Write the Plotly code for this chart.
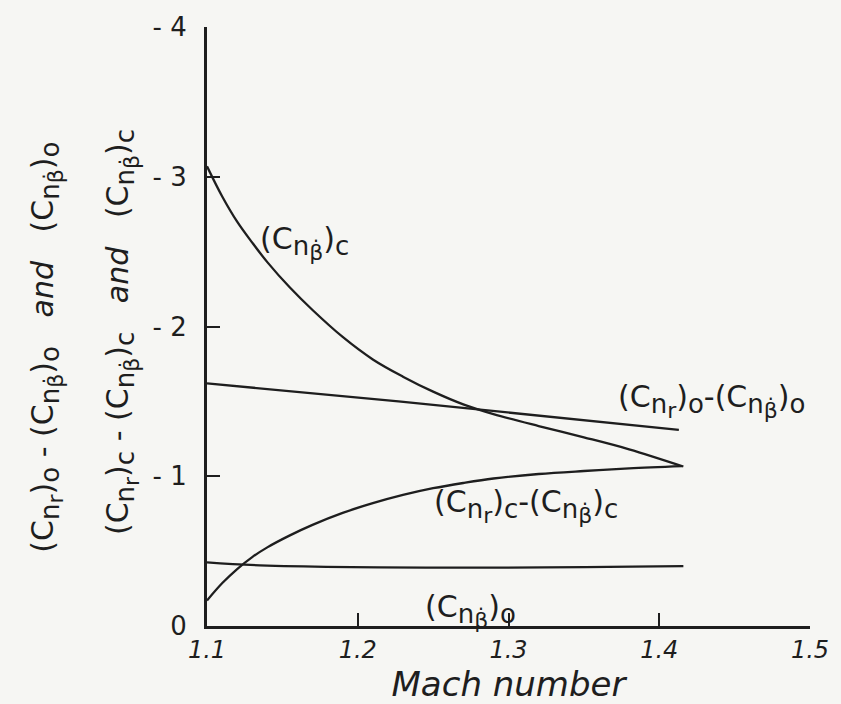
import plotly.graph_objects as go

# ---- data ----
mach_cnbdot_c = [1.100, 1.110, 1.120, 1.130, 1.140, 1.155, 1.170, 1.190, 1.210, 1.230,
                 1.250, 1.270, 1.290, 1.320, 1.350, 1.380, 1.416]
cnbdot_c = [-3.07, -2.87, -2.70, -2.56, -2.43, -2.26, -2.11, -1.93, -1.78, -1.665,
            -1.565, -1.48, -1.415, -1.335, -1.26, -1.18, -1.065]

mach_diff_o = [1.100, 1.227, 1.413]
diff_o = [-1.62, -1.50, -1.31]

mach_diff_c = [1.100, 1.110, 1.120, 1.130, 1.140, 1.155, 1.170, 1.190, 1.210, 1.230,
               1.250, 1.270, 1.290, 1.320, 1.350, 1.380, 1.415]
diff_c = [-0.17, -0.285, -0.38, -0.46, -0.525, -0.605, -0.675, -0.755, -0.82, -0.875,
          -0.92, -0.955, -0.985, -1.015, -1.035, -1.052, -1.067]

mach_cnbdot_o = [1.100, 1.135, 1.268, 1.416]
cnbdot_o = [-0.425, -0.405, -0.39, -0.40]

x_tickvals = [1.1, 1.2, 1.3, 1.4, 1.5]
x_ticktext = ["1.1", "1.2", "1.3", "1.4", "1.5"]
y_tickvals = [-4, -3, -2, -1, 0]
y_ticktext = ["- 4", "- 3", "- 2", "- 1", "0"]

INK = "#1e1e1e"
PAPER = "#f6f6f3"
FONT = "DejaVu Sans"

BD = "β\u0307"


def cn(sub, outer, s1=26, s2=22):
    return ("(C<sub><span style='font-size:%dpx'>n</span><sub>"
            "<span style='font-size:%dpx'>%s</span></sub></sub>)"
            "<sub><span style='font-size:%dpx'>%s</span></sub>") % (s1, s2, sub, s1, outer)


fig = go.Figure()
for xs, ys in [(mach_cnbdot_c, cnbdot_c), (mach_diff_o, diff_o),
               (mach_diff_c, diff_c), (mach_cnbdot_o, cnbdot_o)]:
    fig.add_trace(go.Scatter(x=xs, y=ys, mode="lines",
                             line=dict(color=INK, width=2.3, shape="spline", smoothing=1.0),
                             showlegend=False, hoverinfo="skip"))

labels = [
    (1.134, -2.56, cn(BD, "c")),
    (1.3715, -1.50, cn("r", "o") + "-" + cn(BD, "o")),
    (1.249, -0.80, cn("r", "c") + "-" + cn(BD, "c")),
    (1.243, -0.10, cn(BD, "o")),
]
for x, y, t in labels:
    fig.add_annotation(x=x, y=y, text=t, showarrow=False, xanchor="left", yanchor="middle",
                       font=dict(family=FONT, size=30, color=INK))

ytitle1 = (cn("r", "o") + " - " + cn(BD, "o") + "   <i>and</i>   " + cn(BD, "o"))
ytitle2 = (cn("r", "c") + " - " + cn(BD, "c") + "   <i>and</i>   " + cn(BD, "c"))
fig.add_annotation(xref="paper", yref="paper", x=-0.265, y=0.465, text=ytitle1,
                   textangle=-90, showarrow=False, xanchor="center", yanchor="middle",
                   font=dict(family=FONT, size=30, color=INK))
fig.add_annotation(xref="paper", yref="paper", x=-0.14, y=0.49, text=ytitle2,
                   textangle=-90, showarrow=False, xanchor="center", yanchor="middle",
                   font=dict(family=FONT, size=30, color=INK))

fig.update_layout(
    width=841, height=704,
    margin=dict(l=207, r=28, t=23, b=78),
    paper_bgcolor=PAPER, plot_bgcolor=PAPER,
    font=dict(family=FONT, color=INK),
    xaxis=dict(range=[1.1, 1.5], tickvals=x_tickvals,
               ticktext=["<i>%s</i>" % t for t in x_ticktext],
               ticks="inside", ticklen=13, tickwidth=2, tickcolor=INK,
               showline=True, linecolor=INK, linewidth=3, showgrid=False, zeroline=False,
               tickfont=dict(family=FONT, size=24, color=INK),
               title=dict(text="<i>Mach number</i>", font=dict(family=FONT, size=34, color=INK),
                          standoff=2)),
    yaxis=dict(range=[0, -4], tickvals=y_tickvals, ticktext=y_ticktext,
               ticks="inside", ticklen=13, tickwidth=2, tickcolor=INK,
               showline=True, linecolor=INK, linewidth=3, showgrid=False, zeroline=False,
               tickfont=dict(family=FONT, size=26, color=INK), ticklabelstandoff=12),
)

fig.write_html("out.html", config={"displayModeBar": False},
               post_script="document.body.style.margin='0px';")
